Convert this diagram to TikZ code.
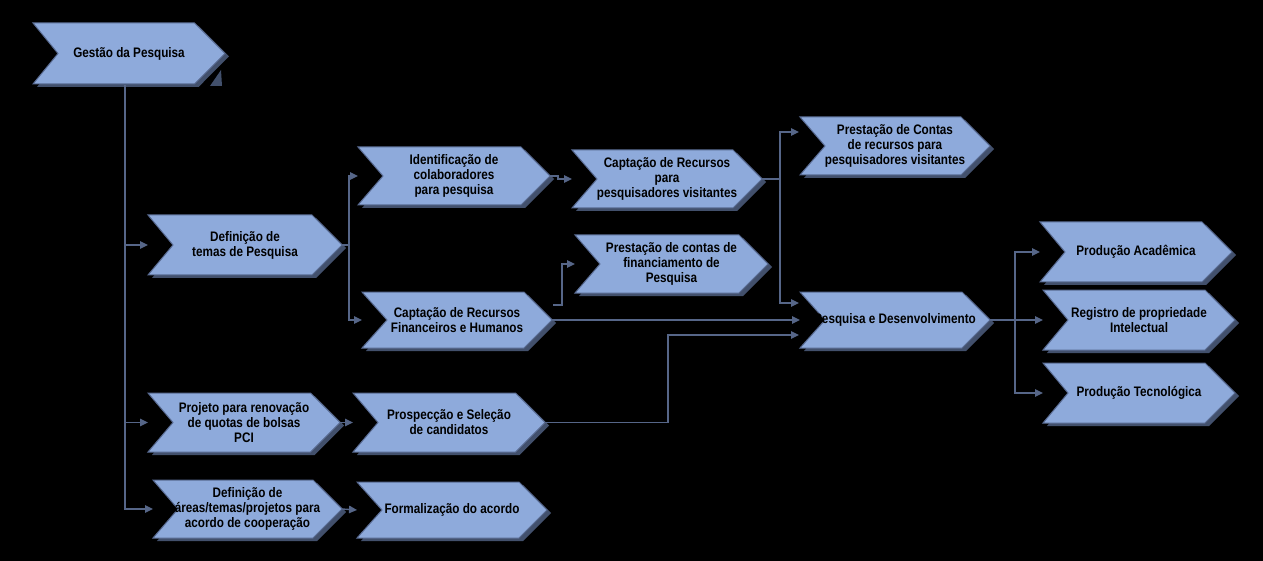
\documentclass[tikz,border=0pt]{standalone}
\usepackage{fontspec}
\newfontfamily\labfont{Liberation Sans}[FakeStretch=0.85]
\usetikzlibrary{arrows.meta}
\definecolor{chevfill}{RGB}{142,170,219}
\definecolor{chevline}{RGB}{88,106,145}
\definecolor{chevshadow}{RGB}{66,80,108}
\definecolor{connc}{RGB}{86,102,136}
\newcommand\chev[6]{%
  \pgfmathsetmacro\chM{(#3+#5)/2}%
  \pgfmathsetmacro\chH{(#5-#3)/2}%
  \pgfmathsetmacro\chX{(#2+#4)/2}%
  \fill[chevshadow] (#2+4,#3+3) -- (#4-\chH+4,#3+3) -- (#4+4,\chM+3) -- (#4-\chH+4,#5+3) -- (#2+4,#5+3) -- (#2+29,\chM+3) -- cycle;
  \draw[chevbox] (#2,#3) -- (#4-\chH,#3) -- (#4,\chM) -- (#4-\chH,#5) -- (#2,#5) -- (#2+25,\chM) -- cycle;
  \node[lab] (#1) at (\chX,\chM) {#6};
  \coordinate (#1-in) at (#2,\chM);
  \coordinate (#1-out) at (#4,\chM);
}
\begin{document}
\begin{tikzpicture}[x=1pt,y=-1pt,
  chevbox/.style={fill=chevfill,draw=chevline,line width=1pt,line join=miter},
  lab/.style={align=center,inner sep=0pt,text=black,font=\labfont\bfseries\fontsize{13.8}{15}\selectfont},
  conn/.style={draw=connc,line width=1.4pt,-{Triangle[length=8pt,width=7.5pt]}},
  connl/.style={draw=connc,line width=1.4pt}]
\fill[black] (0,0) rectangle (1263,561);
\useasboundingbox (0,0) rectangle (1263,561);

\chev{gest}{33}{23}{225}{84}{Gestão da Pesquisa}
\fill[chevshadow] (221,70) -- (222,86) -- (210,86) -- cycle;
\chev{deft}{148}{215}{342}{275}{Definição de\\temas de Pesquisa}
\chev{ident}{358}{147}{550}{205}{Identificação de\\colaboradores\\para pesquisa}
\chev{capf}{362}{292}{552}{348}{Captação de Recursos\\Financeiros e Humanos}
\chev{capv}{572}{150}{762}{208}{Captação de Recursos\\para\\pesquisadores visitantes}
\chev{pcf}{575}{235}{768}{293}{Prestação de contas de\\financiamento de\\Pesquisa}
\chev{pcv}{800}{117}{990}{175}{Prestação de Contas\\de recursos para\\pesquisadores visitantes}
\chev{pd}{800}{292}{990}{348}{Pesquisa e Desenvolvimento}
\chev{pa}{1040}{222}{1232}{282}{Produção Acadêmica}
\chev{reg}{1043}{290}{1235}{350}{Registro de propriedade\\Intelectual}
\chev{pt}{1043}{363}{1235}{423}{Produção Tecnológica}
\chev{proj}{148}{393}{340}{452}{Projeto para renovação\\de quotas de bolsas\\PCI}
\chev{pros}{353}{393}{545}{452}{Prospecção e Seleção\\de candidatos}
\chev{defa}{153}{480}{342}{538}{Definição de\\áreas/temas/projetos para\\acordo de cooperação}
\chev{form}{357}{482}{547}{538}{Formalização do acordo}

\coordinate (gest-bot) at (125,85);
\coordinate (capf-o2) at (553,305);
\coordinate (pcv-a) at (799,132);
\coordinate (pd-a1) at (799,303);
\coordinate (pd-a2) at (799,335);

\draw[conn] (gest-bot) |- (deft-in);
\draw[conn] (gest-bot) |- (proj-in);
\draw[conn] (gest-bot) |- (defa-in);
\draw[conn] (deft-out) -- ++(7,0) |- (ident-in);
\draw[conn] (deft-out) -- ++(7,0) |- (capf-in);
\draw[conn] (ident-out) -- ++(8,0) |- (capv-in);
\draw[conn] (capf-o2) -- ++(9,0) |- (pcf-in);
\draw[conn] (capf-out) -- (pd-in);
\draw[conn] (capv-out) -- ++(18,0) |- (pcv-a);
\draw[conn] (capv-out) -- ++(18,0) |- (pd-a1);
\draw[conn] (pros-out) -- ++(123,0) |- (pd-a2);
\draw[conn] (pd-out) -- ++(25,0) |- (pa-in);
\draw[conn] (pd-out) -- (reg-in);
\draw[conn] (pd-out) -- ++(25,0) |- (pt-in);
\draw[conn] (proj-out) -- (pros-in);
\draw[conn] (defa-out) -- (form-in);
\end{tikzpicture}
\end{document}
